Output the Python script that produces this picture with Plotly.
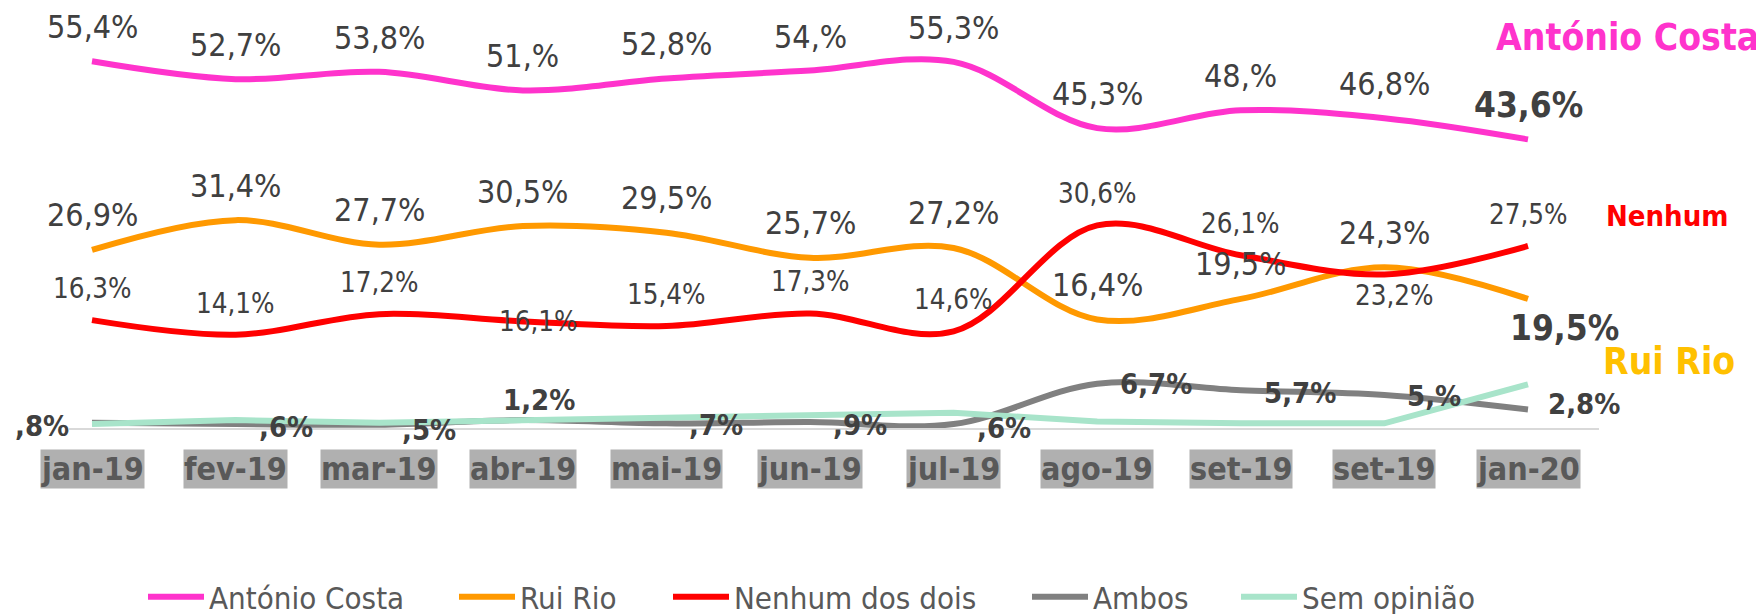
import plotly.graph_objects as go

# ---------------- data ----------------
months = ["jan-19", "fev-19", "mar-19", "abr-19", "mai-19", "jun-19",
          "jul-19", "ago-19", "set-19", "set-19", "jan-20"]
costa = [55.4, 52.7, 53.8, 51.0, 52.8, 54.0, 55.3, 45.3, 48.0, 46.8, 43.6]
rui_rio = [26.9, 31.4, 27.7, 30.5, 29.5, 25.7, 27.2, 16.4, 19.5, 24.3, 19.5]
nenhum = [16.3, 14.1, 17.2, 16.1, 15.4, 17.3, 14.6, 30.6, 26.1, 23.2, 27.5]
ambos = [0.8, 0.6, 0.5, 1.2, 0.7, 0.9, 0.6, 6.7, 5.7, 5.0, 2.8]
sem_opiniao = [0.6, 1.2, 0.8, 1.2, 1.6, 2.1, 2.3, 1.0, 0.7, 0.7, 6.6]
series_names = ["António Costa", "Rui Rio", "Nenhum dos dois", "Ambos", "Sem opinião"]
end_names = ["António Costa", "Nenhum", "Rui Rio"]

x = list(range(len(months)))


def fmt(v):
    s = f"{v:.1f}"
    ip, dp = s.split(".")
    ip = "" if ip == "0" else ip
    dp = "" if dp == "0" else dp
    return f"{ip},{dp}%"


# ---------------- style / layout ----------------
W, H = 1764, 614
OFF = 8                      # page body margin of the html page
AX_LEFT, AX_RIGHT, AX_BOTTOM = 69, 1599, 428   # target pixel positions on screen
ML = AX_LEFT - OFF
MR = W - (AX_RIGHT - OFF)
MT = 0
MB = H - (AX_BOTTOM - OFF)
PLOT_W = W - ML - MR
PLOT_H = H - MT - MB
PX_PER_PCT = 6.62
YMAX = PLOT_H / PX_PER_PCT
CAT_W = 143.6
X0 = -(92 - AX_LEFT) / CAT_W
X1 = X0 + PLOT_W / CAT_W

FONT = "DejaVu Sans Condensed, Liberation Sans Narrow, DejaVu Sans, sans-serif"
C_COSTA = "#FF33CC"
C_RUI = "#FF9900"
C_RUI_NAME = "#FFC000"
C_NEN = "#FF0000"
C_AMB = "#808080"
C_SEM = "#A8E4CA"
C_LBL = "#404040"
C_CAT = "#595959"


def px_to_paper_x(px):
    return (px - OFF - ML) / PLOT_W


def px_to_paper_y(py):
    return (MT + PLOT_H - (py - OFF)) / PLOT_H


fig = go.Figure()

colors = [C_COSTA, C_RUI, C_NEN, C_AMB, C_SEM]
values = [costa, rui_rio, nenhum, ambos, sem_opiniao]
shapes_ = ["spline", "spline", "spline", "spline", "linear"]
for i, (name, vals, col, shp) in enumerate(zip(series_names, values, colors, shapes_)):
    fig.add_trace(go.Scatter(
        x=x, y=vals, name=name, mode="lines",
        line=dict(color=col, width=6, shape=shp, smoothing=1.0),
        hoverinfo="skip",
        legend="legend" if i == 0 else f"legend{i + 1}",
    ))

ann = []


def label(xi, yv, text, size, bold=False, xshift=0, yshift=0, xanchor="center", color=C_LBL):
    ann.append(dict(
        x=xi, y=yv, xref="x", yref="y", text=text, showarrow=False,
        xanchor=xanchor, yanchor="middle", xshift=xshift, yshift=yshift,
        font=dict(family=FONT, size=size, color=color, weight="bold" if bold else "normal"),
    ))


last = len(x) - 1
# António Costa labels: above the line
for i, v in enumerate(costa):
    label(x[i], v, fmt(v), 35 if i == last else 32, bold=(i == last), yshift=34)

# Rui Rio labels: above, last one below-right
for i, v in enumerate(rui_rio):
    if i == last:
        label(x[i], v, fmt(v), 35, bold=True, xshift=36, yshift=-29)
    else:
        label(x[i], v, fmt(v), 32, yshift=34.5)

# Nenhum labels (smaller)
nen_shift = {3: (16, 0), 9: (10, -21)}
for i, v in enumerate(nenhum):
    xs, ys = nen_shift.get(i, (0, 32))
    label(x[i], v, fmt(v), 27.5, xshift=xs, yshift=ys)

# Ambos labels (bold)
amb_pos = ["left", "right", "right", "above", "right", "right", "right",
           "right", "right", "right", "right"]
amb_dy = [-3, -2.5, -5, 20, -2, -2.5, -3.5, 0, -2.7, -1.4, 5]
for i, v in enumerate(ambos):
    p = amb_pos[i]
    if p == "left":
        label(x[i], v, fmt(v), 29, bold=True, xanchor="right", xshift=-21, yshift=amb_dy[i])
    elif p == "right":
        label(x[i], v, fmt(v), 29, bold=True, xanchor="left",
              xshift=18 if i == last else 21, yshift=amb_dy[i])
    else:
        label(x[i], v, fmt(v), 29, bold=True, xshift=16, yshift=amb_dy[i])

# category labels with grey boxes
for i, m in enumerate(months):
    ann.append(dict(
        x=x[i], y=px_to_paper_y(468.7), xref="x", yref="paper", text=m,
        showarrow=False, xanchor="center", yanchor="middle",
        bgcolor="#B0B0B0", borderpad=0,
        font=dict(family=FONT, size=32, color=C_CAT, weight="bold"),
    ))

# series name labels on the right
for text, col, size, (cx, cy) in zip(
        end_names, [C_COSTA, C_NEN, C_RUI_NAME], [37, 29, 37],
        [(1627.6, 37.5), (1667, 216), (1668.5, 361)]):
    ann.append(dict(
        x=px_to_paper_x(cx), y=px_to_paper_y(cy), xref="paper", yref="paper",
        text=text, showarrow=False, xanchor="center", yanchor="middle",
        font=dict(family=FONT, size=size, color=col, weight="bold"),
    ))

layout_legends = {}
leg_x = [148, 459, 673, 1032, 1241]
for i, lx in enumerate(leg_x):
    key = "legend" if i == 0 else f"legend{i + 1}"
    layout_legends[key] = dict(
        x=px_to_paper_x(lx - 5), y=px_to_paper_y(597), xanchor="left", yanchor="middle",
        orientation="h", bgcolor="rgba(0,0,0,0)", borderwidth=0,
        font=dict(family=FONT, size=31, color=C_CAT), itemwidth=56,
    )

fig.update_layout(
    width=W, height=H,
    margin=dict(l=ML, r=MR, t=MT, b=MB, autoexpand=False),
    paper_bgcolor="white", plot_bgcolor="white",
    showlegend=True,
    xaxis=dict(range=[X0, X1], showgrid=False, zeroline=False, showticklabels=False,
               showline=True, linecolor="#D9D9D9", linewidth=2, ticks="", fixedrange=True),
    yaxis=dict(range=[0, YMAX], visible=False, fixedrange=True),
    annotations=ann,
    **layout_legends,
)

fig.write_html("out.html")
